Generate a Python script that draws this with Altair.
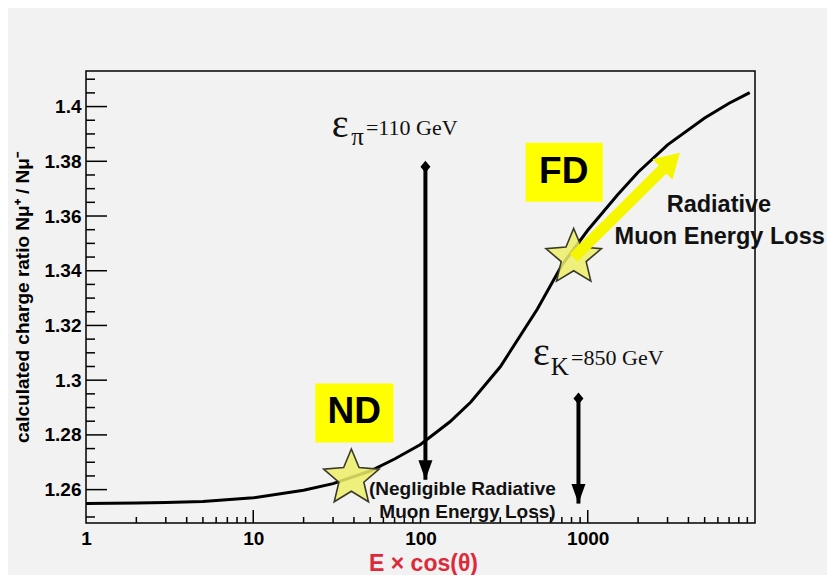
import math
import altair as alt
import pandas as pd

# ---------------- data ----------------
curve_x = [1, 2, 3, 5, 10, 20, 30, 50, 70, 100, 150, 200, 300, 500, 700,
           1000, 1500, 2000, 3000, 5000, 7000, 9300]
curve_y = [1.2549, 1.2551, 1.2553, 1.2557, 1.2570, 1.2598, 1.2622, 1.2668,
           1.2712, 1.2765, 1.2848, 1.2920, 1.3049, 1.3260, 1.3420, 1.3548,
           1.3676, 1.3760, 1.3860, 1.3958, 1.4012, 1.4051]

x_labels = [1, 10, 100, 1000]
x_major_ticks = [10, 100, 1000]
x_minor_ticks = [k * 10 ** d for d in range(4) for k in range(2, 10)]
y_labels = [1.26, 1.28, 1.30, 1.32, 1.34, 1.36, 1.38, 1.40]
y_minor_ticks = [round(1.25 + 0.005 * i, 3) for i in range(33)]
y_minor_ticks = [v for v in y_minor_ticks if all(abs(v - m) > 1e-6 for m in y_labels)]

# detector boxes (ND / FD)
box_label = ["ND", "FD"]
box_x1 = [23.5, 425]
box_x2 = [69, 1230]
box_y1 = [1.2772, 1.3652]
box_y2 = [1.2988, 1.3868]
box_tx = [40.2, 718]
box_ty = [1.2882, 1.3762]

# stars on the curve
star_x = [38.6, 824]
star_y = [1.2642, 1.3448]

# critical energy arrows (epsilon_pi, epsilon_K)
crit_x = [107, 880]
crit_top = [1.378, 1.2933]
crit_tip = [1.2636, 1.2549]

# yellow arrow (radiative loss)
yarrow_x = [824]
yarrow_y = [1.3448]
yarrow_x2 = [2800]
yarrow_y2 = [1.3770]

# text annotations
rad_text = ["Radiative", "Muon Energy Loss"]
rad_x = [6085, 6150]
rad_y = [1.3641, 1.3523]
neg_text = ["(Negligible Radiative", "Muon Energy Loss)"]
neg_x = [178, 191]
neg_y = [1.2604, 1.2519]

eps_text = ["\u03b5", "\u03c0", "=110 GeV", "\u03b5", "K", "=850 GeV"]
eps_x = [29.5, 38.5, 47.2, 470, 600, 795]
eps_y = [1.3890, 1.3860, 1.3897, 1.3054, 1.3018, 1.3054]
eps_size = [40, 25, 22, 40, 25, 22]

# ---------------- helpers ----------------
W, H = 669, 452
XDOM = [1, 10000]
YDOM = [1.2478, 1.413]
SANS = "Liberation Sans"
SERIF = "Liberation Serif"

XAXIS = alt.Axis(values=x_labels, format="d", title="E \u00d7 cos(\u03b8)",
                 titleColor="#dd2a3a", titleFontSize=23, titleFont=SANS,
                 titleFontWeight="bold", titleX=337, titleY=40,
                 titleBaseline="middle", titleAlign="center",
                 labelPadding=6, labelFlush=False)
YAXIS = alt.Axis(values=y_labels, format=".2~f",
                 title="calculated charge ratio  N\u03bc\u207a / N\u03bc\u207b",
                 titleFontSize=19, titleFont=SANS, titleFontWeight="bold",
                 titleX=-64, titleY=226, titleAngle=270,
                 titleBaseline="middle", titleAlign="center",
                 labelPadding=5)


def X(field):
    return alt.X(field, type="quantitative",
                 scale=alt.Scale(type="log", domain=XDOM, nice=False), axis=XAXIS)


def Y(field):
    return alt.Y(field, type="quantitative",
                 scale=alt.Scale(domain=YDOM, nice=False, zero=False), axis=YAXIS)


def star_path(inner=0.45):
    pts = []
    for i in range(10):
        r = 1.0 if i % 2 == 0 else inner
        a = math.radians(-90 + 36 * i)
        pts.append((r * math.cos(a), r * math.sin(a)))
    return "M" + "L".join(f"{px:.4f},{py:.4f}" for px, py in pts) + "Z"


DIAMOND = "M0,-1.2L1,0L0,1.2L-1,0Z"
HEAD_DOWN = "M-1,-2.8L1,-2.8L0,0Z"
HEAD_UP = "M0,-2.2L1.3,0L-1.3,0Z"

# ---------------- layers ----------------
curve_df = pd.DataFrame({"x": curve_x, "y": curve_y})
curve = alt.Chart(curve_df).mark_line(color="black", strokeWidth=3).encode(
    x=X("x"), y=Y("y"))

ymaj = alt.Chart(pd.DataFrame({"y": y_labels})).mark_rule(color="black", strokeWidth=1.5).encode(
    y=Y("y"), x=alt.value(0), x2=alt.value(21))
ymin = alt.Chart(pd.DataFrame({"y": y_minor_ticks})).mark_rule(color="black", strokeWidth=1.5).encode(
    y=Y("y"), x=alt.value(0), x2=alt.value(9))
xmaj = alt.Chart(pd.DataFrame({"x": x_major_ticks})).mark_rule(color="black", strokeWidth=1.5).encode(
    x=X("x"), y=alt.value(H), y2=alt.value(H - 13))
xmin = alt.Chart(pd.DataFrame({"x": x_minor_ticks})).mark_rule(color="black", strokeWidth=1.5).encode(
    x=X("x"), y=alt.value(H), y2=alt.value(H - 6))

box_df = pd.DataFrame({"label": box_label, "x1": box_x1, "x2": box_x2, "y1": box_y1,
                       "y2": box_y2, "tx": box_tx, "ty": box_ty})
boxes = alt.Chart(box_df).mark_rect(color="#ffff00").encode(
    x=X("x1"), x2="x2", y=Y("y1"), y2="y2")
box_text = alt.Chart(box_df).mark_text(font=SANS, fontWeight="bold", fontSize=37,
                                       color="black", align="center", baseline="middle").encode(
    x=X("tx"), y=Y("ty"), text="label:N")

crit_df = pd.DataFrame({"x": crit_x, "top": crit_top, "tip": crit_tip})
shafts = alt.Chart(crit_df).mark_rule(color="black", strokeWidth=4).encode(
    x=X("x"), y=Y("top"), y2="tip")
diamonds = alt.Chart(crit_df).mark_point(shape=DIAMOND, filled=True, color="black",
                                         size=100, opacity=1).encode(x=X("x"), y=Y("top"))
heads = alt.Chart(crit_df).mark_point(shape=HEAD_DOWN, filled=True, color="black",
                                      size=196, opacity=1).encode(x=X("x"), y=Y("tip"))

star_df = pd.DataFrame({"x": star_x, "y": star_y})
stars = alt.Chart(star_df).mark_point(shape=star_path(0.45), filled=True, fill="#efef6a",
                                      fillOpacity=0.85, stroke="#3a3a2a", strokeWidth=1.6,
                                      size=3400, opacity=1).encode(x=X("x"), y=Y("y"))

yarrow_df = pd.DataFrame({"x": yarrow_x, "y": yarrow_y, "x2": yarrow_x2, "y2": yarrow_y2})
yshaft = alt.Chart(yarrow_df).mark_rule(color="#f6f600", strokeWidth=11).encode(
    x=X("x"), y=Y("y"), x2="x2", y2="y2")
yhead = alt.Chart(yarrow_df).mark_point(shape=HEAD_UP, filled=True, color="#f6f600",
                                        size=480, opacity=1, angle=46).encode(
    x=X("x2"), y=Y("y2"))

rad_df = pd.DataFrame({"t": rad_text, "x": rad_x, "y": rad_y})
rad = alt.Chart(rad_df).mark_text(font=SANS, fontWeight="bold", fontSize=23.5, color="#111",
                                  align="center", baseline="middle").encode(
    x=X("x"), y=Y("y"), text="t:N")
neg_df = pd.DataFrame({"t": neg_text, "x": neg_x, "y": neg_y})
neg = alt.Chart(neg_df).mark_text(font=SANS, fontWeight="bold", fontSize=19, color="#111",
                                  align="center", baseline="middle").encode(
    x=X("x"), y=Y("y"), text="t:N")
eps_df = pd.DataFrame({"t": eps_text, "x": eps_x, "y": eps_y, "s": eps_size})
eps = alt.Chart(eps_df).mark_text(font=SERIF, color="#111", align="left",
                                  baseline="alphabetic").encode(
    x=X("x"), y=Y("y"), text="t:N", size=alt.Size("s:Q", scale=None, legend=None))

chart = alt.layer(
    curve, ymaj, ymin, xmaj, xmin, boxes, box_text, shafts, diamonds, heads,
    stars, yshaft, yhead, rad, neg, eps
).properties(
    width=W, height=H,
    autosize=alt.AutoSizeParams(type="none"),
    padding={"left": 78, "top": 63, "right": 72, "bottom": 52},
    background="#f2f2f2",
).configure_view(
    stroke="black", strokeWidth=1.5, fill="#f2f2f2"
).configure_axis(
    grid=False, ticks=False, domain=False,
    labelFont=SANS, labelFontWeight="bold", labelFontSize=19, labelColor="black",
)

chart.save("out.html", embed_options={"renderer": "svg", "actions": False})
